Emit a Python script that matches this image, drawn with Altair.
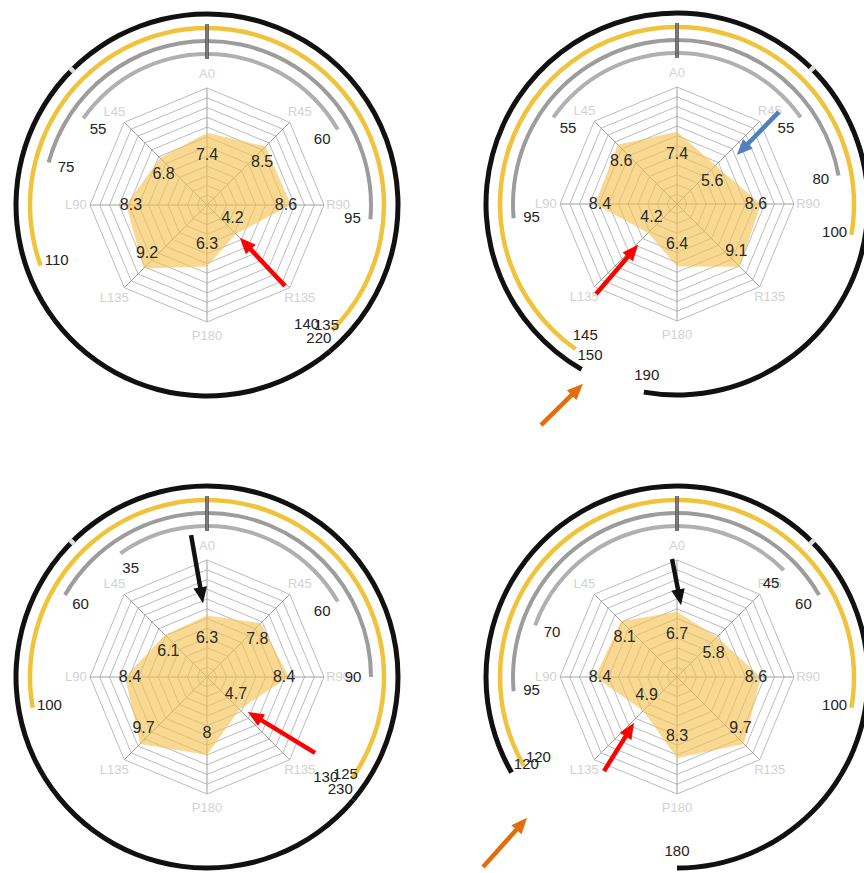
import math

import altair as alt
import pandas as pd

# ---------------------------------------------------------------- data
AXES = ["A0", "R45", "R90", "R135", "P180", "L135", "L90", "L45"]
AXIS_DEG = [0, 45, 90, 135, 180, 225, 270, 315]

SCORES_1 = [7.4, 8.5, 8.6, 4.2, 6.3, 9.2, 8.3, 6.8]
SCORES_2 = [7.4, 5.6, 8.6, 9.1, 6.4, 4.2, 8.4, 8.6]
SCORES_3 = [6.3, 7.8, 8.4, 4.7, 8.0, 9.7, 8.4, 6.1]
SCORES_4 = [6.7, 5.8, 8.6, 9.7, 8.3, 4.9, 8.4, 8.1]
SCORES = [SCORES_1, SCORES_2, SCORES_3, SCORES_4]

# range arcs: degrees swept to the left / right of the top (A0)
INNER_GRAY_LEFT = [55, 55, 35, 70]
INNER_GRAY_RIGHT = [60, 55, 60, 45]
OUTER_GRAY_LEFT = [75, 95, 60, 95]
OUTER_GRAY_RIGHT = [95, 80, 90, 60]
YELLOW_LEFT = [110, 145, 100, 120]
YELLOW_RIGHT = [135, 100, 125, 100]
BLACK_LEFT = [220, 150, 230, 120]
BLACK_RIGHT = [140, 190, 130, 180]
NOTCH_DEG = [315, 45, 315, 45]

# annotation arrows, in the radar's own polar frame (degrees, score units)
ARROW_PANEL = [0, 1, 1, 1, 2, 2, 3, 3, 3]
ARROW_COLOR = ["#ff0000", "#ff0000", "#4f81bd", "#e46c0a", "#111111",
               "#ff0000", "#111111", "#ff0000", "#e46c0a"]
ARROW_TIP_DEG = [135, 223.6, 50.7, 207.6, 356.9, 130.5, 3.2, 223.1, 226.8]
ARROW_TIP_R = [4.78, 5.8, 7.94, 20.83, 7.6, 5.53, 7.39, 6.46, 21.11]
ARROW_TAIL_DEG = [136.05, 222.0, 47.9, 211.6, 353.6, 125.1, 357.6, 217.8, 225.6]
ARROW_TAIL_R = [11.53, 12.41, 14.09, 26.62, 14.65, 13.54, 12.11, 12.21, 27.85]

# ---------------------------------------------------------------- layout
U = 9.75                      # pixels per score unit
W, H = 864, 873
CX = [207 / U, 677 / U, 207 / U, 677 / U]
CY = [205 / U, 204 / U, 677 / U, 677 / U]
GRID_MAX = 12

RINGS = [
    # name, left spans, right spans, radius px, width px, colour, label radius px
    ("inner", INNER_GRAY_LEFT, INNER_GRAY_RIGHT, 151, 4.0, "#b0b0b0", 133),
    ("outer", OUTER_GRAY_LEFT, OUTER_GRAY_RIGHT, 164, 4.0, "#9c9c9c", 146),
    ("yellow", YELLOW_LEFT, YELLOW_RIGHT, 177, 4.5, "#f0c33c", 160),
    ("black", BLACK_LEFT, BLACK_RIGHT, 191, 5.0, "#111111", 174),
]
# where the two black ends meet, the right-hand labels are nudged apart
LABEL_NUDGE = {("yellow", "R"): 169, ("black", "R"): 155}

xs = alt.Scale(domain=[0, W / U], nice=False, zero=False)
ys = alt.Scale(domain=[0, H / U], nice=False, zero=False, reverse=True)
ts = alt.Scale(domain=[0, 360], range=[0, 2 * math.pi])


def X(f):
    return alt.X(f, type="quantitative", scale=xs, axis=None)


def Y(f):
    return alt.Y(f, type="quantitative", scale=ys, axis=None)


def polar(px, py, r_expr, deg_expr):
    rad = f"({deg_expr}) * PI / 180"
    return {
        px: f"datum.cx + ({r_expr}) * sin({rad})",
        py: f"datum.cy - ({r_expr}) * cos({rad})",
    }


# ---------------------------------------------------------------- tables
radar_rows, grid_rows, spoke_rows = [], [], []
for p, vals in enumerate(SCORES):
    for j in range(9):
        i = j % 8
        radar_rows.append(dict(panel=p, cx=CX[p], cy=CY[p], axis=AXES[i],
                               deg=AXIS_DEG[i], value=vals[i], ord=j))
        for k in range(1, GRID_MAX + 1):
            grid_rows.append(dict(key=f"{p}-{k}", cx=CX[p], cy=CY[p],
                                  ring=k, deg=AXIS_DEG[i], ord=j))
    for i in range(8):
        spoke_rows.append(dict(panel=p, cx=CX[p], cy=CY[p], axis=AXES[i],
                               deg=AXIS_DEG[i]))
radar_df = pd.DataFrame(radar_rows)
grid_df = pd.DataFrame(grid_rows)
spoke_df = pd.DataFrame(spoke_rows)
label_df = radar_df[radar_df["ord"] < 8]

arc_rows, arc_label_rows = [], []
for name, left, right, r, w, col, lr in RINGS:
    for p in range(4):
        arc_rows.append(dict(ring=name, cx=CX[p], cy=CY[p], t0=360 - left[p], t1=360))
        arc_rows.append(dict(ring=name, cx=CX[p], cy=CY[p], t0=0, t1=right[p]))
        meet = BLACK_LEFT[p] + BLACK_RIGHT[p] == 360
        arc_label_rows.append(dict(cx=CX[p], cy=CY[p], text=str(left[p]),
                                   deg=360 - left[p], lr=lr / U))
        rr = LABEL_NUDGE.get((name, "R"), lr) if meet else lr
        arc_label_rows.append(dict(cx=CX[p], cy=CY[p], text=str(right[p]),
                                   deg=right[p], lr=rr / U))
arc_df = pd.DataFrame(arc_rows)
arc_label_df = pd.DataFrame(arc_label_rows)

centre_df = pd.DataFrame(dict(cx=CX, cy=CY, notch=NOTCH_DEG))
centre_df["n0"] = centre_df["notch"] - 0.7
centre_df["n1"] = centre_df["notch"] + 0.7

arrow_df = pd.DataFrame(dict(
    panel=ARROW_PANEL, color=ARROW_COLOR,
    tip_deg=ARROW_TIP_DEG, tip_r=ARROW_TIP_R,
    tail_deg=ARROW_TAIL_DEG, tail_r=ARROW_TAIL_R,
))
arrow_df["cx"] = [CX[p] for p in ARROW_PANEL]
arrow_df["cy"] = [CY[p] for p in ARROW_PANEL]

# ---------------------------------------------------------------- layers
grid = alt.Chart(grid_df).transform_calculate(
    **polar("px", "py", "datum.ring", "datum.deg")
).mark_line(color="#bcbcbc", strokeWidth=1).encode(
    x=X("px"), y=Y("py"), detail="key:N", order="ord:Q"
)

spokes = alt.Chart(spoke_df).transform_calculate(
    **polar("ex", "ey", str(GRID_MAX), "datum.deg")
).mark_rule(color="#a0a0a0", strokeWidth=1).encode(
    x=X("cx"), y=Y("cy"), x2=alt.X2("ex"), y2=alt.Y2("ey")
)

shape = alt.Chart(radar_df).transform_calculate(
    **polar("px", "py", "datum.value", "datum.deg")
).mark_line(fill="#f6c24e", fillOpacity=0.62, strokeOpacity=0).encode(
    x=X("px"), y=Y("py"), detail="panel:N", order="ord:Q"
)

axis_text = alt.Chart(spoke_df).transform_calculate(
    **polar("lx", "ly", "13.45", "datum.deg")
).mark_text(fontSize=13, font="Liberation Sans", color="#d2d2d2").encode(
    x=X("lx"), y=Y("ly"), text="axis:N"
)

value_text = alt.Chart(label_df).transform_calculate(
    lx="datum.cx + (datum.value - 0.5) * sin(datum.deg * PI / 180)",
    ly="datum.cy - (datum.value - 2.3) * cos(datum.deg * PI / 180)",
).mark_text(fontSize=16, font="Liberation Sans", color="#2a2a2a").encode(
    x=X("lx"), y=Y("ly"), text=alt.Text("value:Q")
)

arc_layers = []
for name, left, right, r, w, col, lr in RINGS:
    arc_layers.append(
        alt.Chart(arc_df[arc_df["ring"] == name]).mark_arc(
            radius=r + w / 2, radius2=r - w / 2, color=col
        ).encode(
            x=X("cx"), y=Y("cy"),
            theta=alt.Theta("t0:Q", scale=ts, stack=False),
            theta2=alt.Theta2("t1"),
        )
    )

arc_text = alt.Chart(arc_label_df).transform_calculate(
    **polar("lx", "ly", "datum.lr", "datum.deg")
).mark_text(fontSize=15, font="Liberation Sans", color="#222222").encode(
    x=X("lx"), y=Y("ly"), text="text:N"
)

top_bar = alt.Chart(centre_df).transform_calculate(
    y0=f"datum.cy - {181 / U}", y1=f"datum.cy - {146 / U}"
).mark_rule(color="#4d4d4d", strokeWidth=3.6).encode(
    x=X("cx"), y=Y("y0"), y2=alt.Y2("y1")
)
top_bar_core = alt.Chart(centre_df).transform_calculate(
    y0=f"datum.cy - {181 / U}", y1=f"datum.cy - {146 / U}"
).mark_rule(color="#a8a8a8", strokeWidth=1).encode(
    x=X("cx"), y=Y("y0"), y2=alt.Y2("y1")
)

notch = alt.Chart(centre_df).mark_arc(radius=194.5, radius2=187.5, color="#dcdcdc").encode(
    x=X("cx"), y=Y("cy"),
    theta=alt.Theta("n0:Q", scale=ts, stack=False),
    theta2=alt.Theta2("n1"),
)

arrow_base = alt.Chart(arrow_df).transform_calculate(
    **polar("tx", "ty", "datum.tip_r", "datum.tip_deg"),
    **polar("sx", "sy", "datum.tail_r", "datum.tail_deg"),
).transform_calculate(
    d="sqrt(pow(datum.tx - datum.sx, 2) + pow(datum.ty - datum.sy, 2))"
).transform_calculate(
    hx="datum.tx - 0.8 * (datum.tx - datum.sx) / datum.d",
    hy="datum.ty - 0.8 * (datum.ty - datum.sy) / datum.d",
    ang="(atan2(datum.tx - datum.sx, -(datum.ty - datum.sy)) * 180 / PI + 360) % 360",
)

arrow_shaft = arrow_base.mark_rule(strokeWidth=4.5, strokeCap="butt").encode(
    x=X("sx"), y=Y("sy"), x2=alt.X2("hx"), y2=alt.Y2("hy"),
    color=alt.Color("color:N", scale=None),
)
arrow_head = arrow_base.mark_point(
    shape="M0,-1L0.85,1L-0.85,1Z", filled=True, opacity=1, size=256, strokeWidth=0
).encode(
    x=X("hx"), y=Y("hy"),
    angle=alt.Angle("ang:Q", scale=alt.Scale(domain=[0, 360], range=[0, 360])),
    color=alt.Color("color:N", scale=None),
)

chart = alt.layer(
    grid, spokes, shape, axis_text, value_text,
    *arc_layers, arc_text, top_bar, top_bar_core, notch,
    arrow_shaft, arrow_head,
).properties(
    width=W, height=H, padding=0,
    autosize=alt.AutoSizeParams(type="none"),
).configure_view(strokeWidth=0)

chart.save("out.html", embed_options={"renderer": "svg", "actions": False})
